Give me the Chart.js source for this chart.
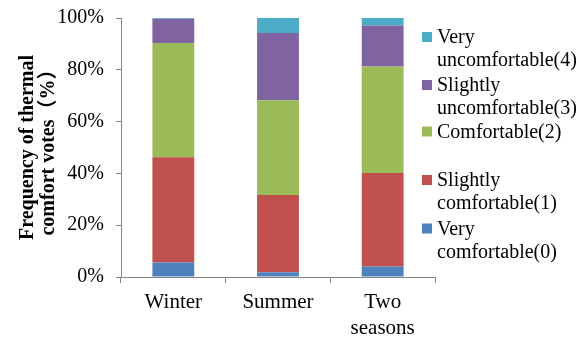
<!DOCTYPE html>
<html>
<head>
<meta charset="utf-8">
<script src="https://cdn.jsdelivr.net/npm/chart.js@4.4.1/dist/chart.umd.min.js"></script>
<style>
  html, body { margin: 0; padding: 0; background: #ffffff; }
  #wrap { width: 586px; height: 338px; }
</style>
</head>
<body>
<div id="wrap"><canvas id="chart" width="586" height="338"></canvas></div>
<script>
// Seasons on the x axis
const categories = ['Winter', 'Summer', ['Two', 'seasons']];

// Share of thermal comfort votes per season (%), one array per vote class
const veryComfortable0 = [5.6, 1.8, 4.1];
const slightlyComfortable1 = [40.6, 29.9, 36.1];
const comfortable2 = [44.1, 36.5, 41.1];
const slightlyUncomfortable3 = [9.4, 26.0, 15.8];
const veryUncomfortable4 = [0.3, 5.8, 2.9];

// Legend text, one entry per class (bottom of stack first)
const seriesLabels = [
  ['Very', 'comfortable(0)'],
  ['Slightly', 'comfortable(1)'],
  ['Comfortable(2)'],
  ['Slightly', 'uncomfortable(3)'],
  ['Very', 'uncomfortable(4)']
];

const yTicks = [0, 20, 40, 60, 80, 100];

const colors = ['#4F81BD', '#C0504D', '#9BBB59', '#8064A2', '#4BACC6'];
const serif = "'Liberation Serif', 'Times New Roman', 'Noto Sans CJK SC', serif";

const seriesValues = [veryComfortable0, slightlyComfortable1, comfortable2, slightlyUncomfortable3, veryUncomfortable4];

const datasets = seriesValues.map((vals, i) => ({
  label: seriesLabels[i].join(' '),
  data: vals,
  backgroundColor: colors[i],
  borderWidth: 0,
  barPercentage: 0.4,
  categoryPercentage: 1.0
}));

// Legend drawn at the right, top entry = last series
const legendLayout = {
  boxX: 422, boxSize: 10, textX: 437, lineGap: 23,
  rows: [229.5, 181, 132.5, 86, 38]   // first-line centres, bottom series first
};

const sideLegend = {
  id: 'sideLegend',
  afterDraw(chart) {
    const ctx = chart.ctx;
    ctx.save();
    ctx.font = '20px ' + serif;
    ctx.textBaseline = 'middle';
    ctx.textAlign = 'left';
    chart.data.datasets.forEach((ds, i) => {
      const y = legendLayout.rows[i];
      ctx.fillStyle = ds.backgroundColor;
      ctx.fillRect(legendLayout.boxX, y - 1 - legendLayout.boxSize / 2, legendLayout.boxSize, legendLayout.boxSize);
      ctx.fillStyle = '#000000';
      seriesLabels[i].forEach((line, k) => {
        ctx.fillText(line, legendLayout.textX, y + k * legendLayout.lineGap);
      });
    });
    ctx.restore();
  }
};

const axisGrey = '#868686';

new Chart(document.getElementById('chart'), {
  type: 'bar',
  data: { labels: categories, datasets },
  plugins: [sideLegend],
  options: {
    responsive: false,
    animation: false,
    layout: { padding: { left: 0, top: 18, right: 151, bottom: 0 } },
    plugins: {
      legend: { display: false },
      tooltip: { enabled: false }
    },
    scales: {
      x: {
        stacked: true,
        offset: true,
        border: { display: true, color: axisGrey, width: 1 },
        grid: { display: true, offset: true, drawOnChartArea: false, drawTicks: true, tickLength: 6, color: axisGrey, lineWidth: 1 },
        ticks: { color: '#000000', font: { family: serif, size: 21, lineHeight: 1.25 }, padding: 6, maxRotation: 0, autoSkip: false },
        afterFit(scale) { scale.height = 61; scale.paddingLeft = 0; scale.paddingRight = 0; }
      },
      y: {
        stacked: true,
        min: 0,
        max: 100,
        afterBuildTicks(scale) { scale.ticks = yTicks.map(v => ({ value: v })); },
        border: { display: true, color: axisGrey, width: 1 },
        grid: { display: true, drawOnChartArea: false, drawTicks: true, tickLength: 5, color: axisGrey, lineWidth: 1 },
        ticks: {
          color: '#000000',
          font: { family: serif, size: 20 },
          padding: 12,
          callback: v => v + '%'
        },
        title: {
          display: true,
          text: ['Frequency of thermal', 'comfort votes（%）'],
          color: '#000000',
          font: { family: serif, size: 20, weight: 'bold', lineHeight: 1.05 },
          padding: { top: 17, bottom: 0 }
        },
        afterFit(scale) { scale.width = 121; scale.paddingTop = 0; scale.paddingBottom = 0; }
      }
    }
  }
});
</script>
</body>
</html>
